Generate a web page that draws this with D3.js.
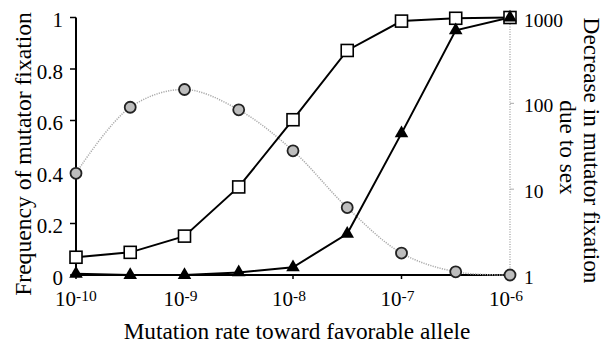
<!DOCTYPE html>
<html><head><meta charset="utf-8">
<script src="https://cdn.jsdelivr.net/npm/d3@7"></script>
<style>
html,body{margin:0;padding:0;background:#fff;}
#chart text, #chart tspan { font-family: "Liberation Serif", "Times New Roman", Times, serif; }
</style></head>
<body>
<svg id="chart" width="614" height="346"></svg>
<script>
const mutationRate = [1e-10, 3.16e-10, 1e-9, 3.16e-9, 1e-8, 3.16e-8, 1e-7, 3.16e-7, 1e-6];
const asexualFix = [0.069, 0.088, 0.151, 0.342, 0.603, 0.872, 0.986, 0.997, 1.0];
const sexualFix = [0.005, 0.0, 0.0, 0.01, 0.03, 0.16, 0.55, 0.95, 1.0];
const decreaseDueToSex = [15.3, 90, 145, 84, 28, 6.1, 1.8, 1.09, 1.0];
const xTicks = [1e-10, 1e-9, 1e-8, 1e-7, 1e-6];
const xTickExp = ["-10", "-9", "-8", "-7", "-6"];
const leftTicks = [0, 0.2, 0.4, 0.6, 0.8, 1];
const leftTickLabels = ["0", "0.2", "0.4", "0.6", "0.8", "1"];
const rightTicks = [1, 10, 100, 1000];

const FONT = "Liberation Serif";
const svg = d3.select("#chart");
const x = d3.scaleLog().domain([1e-10, 1e-6]).range([76, 510]);
const yL = d3.scaleLinear().domain([0, 1]).range([275, 17.5]);
const yR = d3.scaleLog().domain([1, 1000]).range([275, 17.5]);

function txt(sel) { return sel.style("font-family", FONT).attr("fill", "#000"); }

// right axis (dotted gray)
svg.append("line").attr("x1", x(1e-6)).attr("x2", x(1e-6)).attr("y1", yR(1)).attr("y2", yR(1000))
  .attr("stroke", "#999").attr("stroke-width", 1.2).attr("stroke-dasharray", "1,1.5");
rightTicks.forEach(t => {
  svg.append("line").attr("x1", x(1e-6)).attr("x2", x(1e-6) + 4).attr("y1", yR(t)).attr("y2", yR(t))
    .attr("stroke", "#aaa").attr("stroke-width", 1);
  txt(svg.append("text")).attr("x", x(1e-6) + 14).attr("y", yR(t) + 9)
    .attr("font-size", 19.5).text(t);
});

// left axis
svg.append("line").attr("x1", x(1e-10)).attr("x2", x(1e-10)).attr("y1", yL(0)).attr("y2", yL(1))
  .attr("stroke", "#000").attr("stroke-width", 2);
leftTicks.forEach((t, i) => {
  svg.append("line").attr("x1", x(1e-10) - 6).attr("x2", x(1e-10)).attr("y1", yL(t)).attr("y2", yL(t))
    .attr("stroke", "#000").attr("stroke-width", 1.5);
  txt(svg.append("text")).attr("x", x(1e-10) - 13).attr("y", yL(t) + 9.5)
    .attr("text-anchor", "end").attr("font-size", 21).text(leftTickLabels[i]);
});

// x axis
svg.append("line").attr("x1", x(1e-10)).attr("x2", x(1e-6)).attr("y1", yL(0)).attr("y2", yL(0))
  .attr("stroke", "#000").attr("stroke-width", 2);
xTicks.forEach((t, i) => {
  svg.append("line").attr("x1", x(t)).attr("x2", x(t)).attr("y1", yL(0)).attr("y2", yL(0) + 4)
    .attr("stroke", "#000").attr("stroke-width", 1.5);
  const tx = txt(svg.append("text")).attr("x", x(t) - 21).attr("y", 305.5).attr("text-anchor", "start")
    .attr("font-size", 21);
  tx.append("tspan").text("10");
  tx.append("tspan").attr("font-size", 15.5).attr("dy", -5).text(xTickExp[i]);
});

// titles
txt(svg.append("text")).attr("transform", "translate(31,154) rotate(-90)").attr("text-anchor", "middle")
  .attr("font-size", 23.6).text("Frequency of mutator fixation");
txt(svg.append("text")).attr("transform", "translate(584,150.5) rotate(90)").attr("text-anchor", "middle")
  .attr("font-size", 23.3).text("Decrease in mutator fixation");
txt(svg.append("text")).attr("transform", "translate(560,147.5) rotate(90)").attr("text-anchor", "middle")
  .attr("font-size", 23.3).text("due to sex");
txt(svg.append("text")).attr("x", 297).attr("y", 338.5).attr("text-anchor", "middle")
  .attr("font-size", 23.3).text("Mutation rate toward favorable allele");

// gray dotted curve (right axis)
const circData = mutationRate.map((m, i) => [m, decreaseDueToSex[i]]);
svg.append("path").datum(circData)
  .attr("d", d3.line().x(d => x(d[0])).y(d => yR(d[1])).curve(d3.curveCatmullRom.alpha(0.5)))
  .attr("fill", "none").attr("stroke", "#aaa").attr("stroke-width", 1.5).attr("stroke-dasharray", "1.2,1.2");

// square series
const sqData = mutationRate.map((m, i) => [m, asexualFix[i]]);
svg.append("path").datum(sqData)
  .attr("d", d3.line().x(d => x(d[0])).y(d => yL(d[1])))
  .attr("fill", "none").attr("stroke", "#000").attr("stroke-width", 2);

// triangle series
const trData = mutationRate.map((m, i) => [m, sexualFix[i]]);
svg.append("path").datum(trData)
  .attr("d", d3.line().x(d => x(d[0])).y(d => yL(d[1])))
  .attr("fill", "none").attr("stroke", "#000").attr("stroke-width", 2);

// circles
svg.selectAll("circle.c").data(circData).enter().append("circle")
  .attr("cx", d => x(d[0])).attr("cy", d => yR(d[1])).attr("r", 5.5)
  .attr("fill", "#bdbdbd").attr("stroke", "#222").attr("stroke-width", 1.8);

// squares
svg.selectAll("rect.s").data(sqData).enter().append("rect")
  .attr("x", d => x(d[0]) - 6).attr("y", d => yL(d[1]) - 6).attr("width", 12).attr("height", 12)
  .attr("fill", "#fff").attr("stroke", "#000").attr("stroke-width", 1.6);

// triangles
const tri = d3.symbol().type(d3.symbolTriangle).size(80);
svg.selectAll("path.t").data(trData).enter().append("path")
  .attr("transform", d => `translate(${x(d[0])},${yL(d[1])})`).attr("d", tri).attr("fill", "#000");
</script>
</body></html>
